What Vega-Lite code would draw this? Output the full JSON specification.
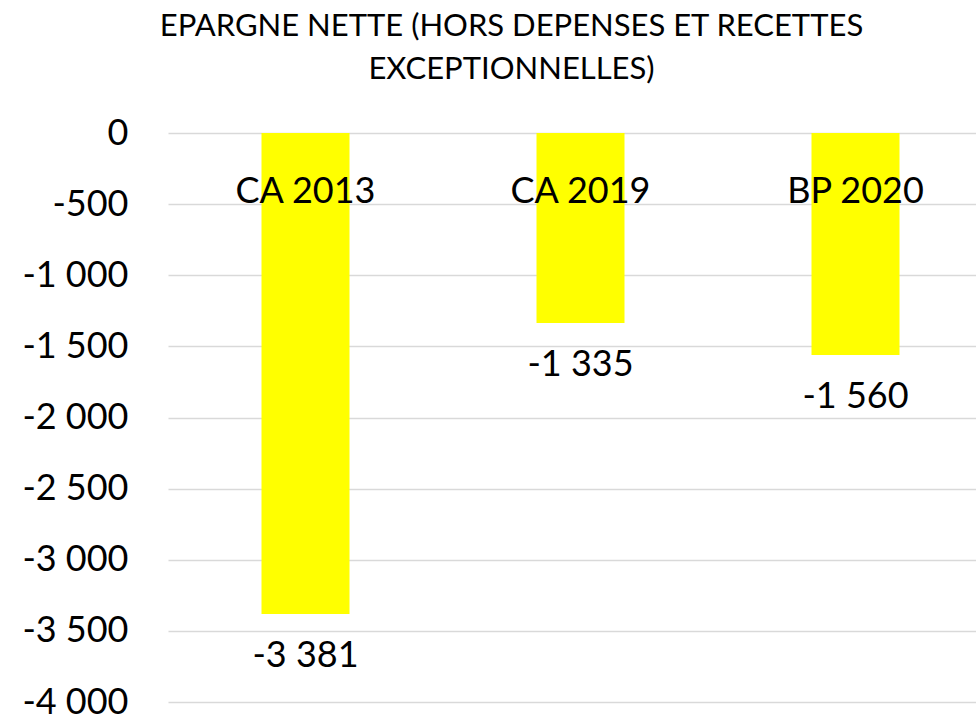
{
  "$schema": "https://vega.github.io/schema/vega-lite/v6.json",
  "autosize": {"type": "none"},
  "width": 825,
  "height": 569,
  "padding": {"left": 168, "top": 133, "right": 0, "bottom": 18},
  "background": "white",
  "config": {
    "view": {"stroke": null},
    "font": "Lato",
    "locale": {"number": {"decimal": ",", "thousands": " ", "grouping": [3], "currency": ["", " €"], "minus": "-"}}
  },
  "title": {
    "text": ["EPARGNE NETTE (HORS DEPENSES ET RECETTES", "EXCEPTIONNELLES)"],
    "fontSize": 31,
    "fontWeight": "normal",
    "color": "#000000",
    "anchor": "middle",
    "frame": "group",
    "dx": -69,
    "offset": 29,
    "lineHeight": 43
  },
  "data": {
    "values": [
      {"cat": "CA 2013", "value": -3381},
      {"cat": "CA 2019", "value": -1335},
      {"cat": "BP 2020", "value": -1560}
    ]
  },
  "encoding": {
    "x": {
      "field": "cat",
      "type": "nominal",
      "sort": null,
      "scale": {"paddingInner": 0.68, "paddingOuter": 0.34},
      "axis": {
        "orient": "top",
        "title": null,
        "domain": false,
        "ticks": false,
        "labelAngle": 0,
        "labelFontSize": 36,
        "labelColor": "#000000",
        "labelBaseline": "middle",
        "labelPadding": -58,
        "zindex": 1
      }
    },
    "y": {
      "field": "value",
      "type": "quantitative",
      "scale": {"domain": [-4000, 0], "nice": false, "zero": false},
      "axis": {
        "title": null,
        "domain": false,
        "ticks": false,
        "values": [0, -500, -1000, -1500, -2000, -2500, -3000, -3500, -4000],
        "format": ",d",
        "labelFontSize": 36,
        "labelColor": "#000000",
        "labelPadding": 40,
        "gridColor": "#d9d9d9",
        "gridWidth": 1.5
      }
    }
  },
  "layer": [
    {"mark": {"type": "bar", "color": "#ffff00"}},
    {
      "mark": {"type": "text", "fontSize": 36, "color": "#000000", "baseline": "top", "dy": 25},
      "encoding": {"text": {"field": "value", "type": "quantitative", "format": ",d"}}
    }
  ]
}
